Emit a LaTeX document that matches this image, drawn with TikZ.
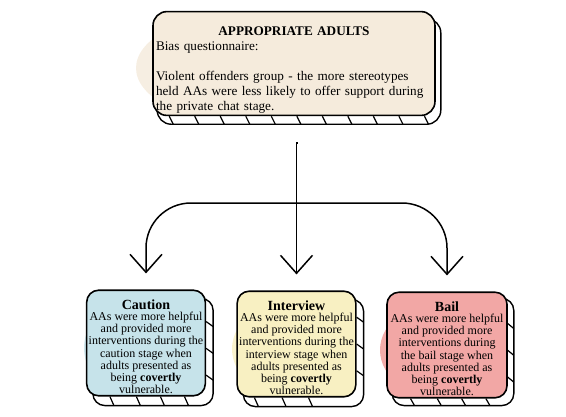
\documentclass[tikz,border=0pt]{standalone}
\usepackage{fontspec}
\setmainfont{Liberation Serif}
\usetikzlibrary{arrows.meta,calc}
\pgfdeclarelayer{bgzero}
\pgfdeclarelayer{bgone}
\pgfsetlayers{bgzero,bgone,main}
\definecolor{topfill}{HTML}{F5EBDC}
\definecolor{topblob}{HTML}{F6EEE2}
\definecolor{bluefill}{HTML}{C6E3EA}
\definecolor{blueblob}{HTML}{CFE7EE}
\definecolor{yelfill}{HTML}{F8F0C2}
\definecolor{yelblob}{HTML}{FAF3CC}
\definecolor{pinkfill}{HTML}{F2A7A5}
\definecolor{pinkblob}{HTML}{F3ABA9}
\tikzset{
  box/.style={draw=black, line width=1.6pt, inner sep=2pt},
  topbox/.style={box, rounded corners=14pt, fill=topfill, text width=276pt, align=left,
    minimum width=282pt, minimum height=103pt, font=\fontsize{13.2}{15}\selectfont},
  card/.style={box, rounded corners=12pt, align=center, minimum height=100pt,
    font=\fontsize{12}{12.2}\selectfont},
  slabline/.style={draw=black, line width=1.4pt},
  conn/.style={draw=black, line width=1.5pt, -{Straight Barb[length=18pt,width=32pt,line width=1.5pt]}, shorten >=16pt},
  tick/.style={draw=black, line width=1.2pt}
}
\newcommand{\cardtitle}[1]{{\rule{0pt}{17pt}\fontsize{14}{14}\selectfont\bfseries #1}\\[-1pt]}
% slab behind a box: node, dx, dy, radius, bottom tick fractions, right tick fractions
\newcommand{\slab}[6]{%
  \begin{pgfonlayer}{bgone}
  \draw[slabline, fill=white, rounded corners=#4]
    ($(#1.north west)+(#2,#3)$) rectangle ($(#1.south east)+(#2,#3)$);
  \foreach \t in {#5}
    \draw[tick] ($(#1.south west)!\t!(#1.south east)$) -- ++(4,#3);
  \foreach \t in {#6}
    \draw[tick] ($(#1.north east)!\t!(#1.south east)$) -- ++(#2,5);
  \end{pgfonlayer}}
\begin{document}
\begin{tikzpicture}[x=1pt,y=-1pt]
\useasboundingbox (0,0) rectangle (566,416);
% blobs
\begin{pgfonlayer}{bgzero}
  \fill[topblob] (252,68) ellipse [x radius=116, y radius=56];
  \fill[blueblob] (146,348) ellipse [x radius=62, y radius=52];
  \fill[yelblob] (297,349) ellipse [x radius=65, y radius=50];
  \fill[pinkblob] (447,350) ellipse [x radius=67, y radius=50];
\end{pgfonlayer}
% top box
\node[topbox] (top) at (294,63.5) {\rule{0pt}{22pt}\makebox[\linewidth]{\bfseries APPROPRIATE ADULTS}\\Bias questionnaire:\\[15pt]Violent offenders group - the more stereotypes\\held AAs were less likely to offer support during\\the private chat stage.};
\slab{top}{5}{8}{14pt}{0.06,0.15,0.24,0.33,0.42,0.51,0.60,0.69,0.78,0.87,0.96}{}
% bottom boxes
\node[card, fill=bluefill, minimum width=118pt] (caution) at (146,343)
  {\cardtitle{Caution}AAs were more helpful\\and provided more\\interventions during the\\caution stage when\\adults presented as\\being \textbf{covertly}\\vulnerable.};
\slab{caution}{7}{9}{12pt}{0.2,0.42,0.62,0.82}{0.3,0.55,0.8}
\node[card, fill=yelfill, minimum width=117pt, minimum height=102pt] (interview) at (296.5,344)
  {\cardtitle{Interview}AAs were more helpful\\and provided more\\interventions during the\\interview stage when\\adults presented as\\being \textbf{covertly}\\vulnerable.};
\slab{interview}{7}{9}{12pt}{0.15,0.38,0.6}{0.25,0.5,0.75}
\node[card, fill=pinkfill, minimum width=120pt, minimum height=104pt] (bail) at (447,345)
  {\cardtitle{Bail}AAs were more helpful\\and provided more\\interventions during\\the bail stage when\\adults presented as\\being \textbf{covertly}\\vulnerable.};
\slab{bail}{6}{7}{12pt}{0.2,0.42,0.62,0.82}{0.3,0.55,0.8}
% connectors
\coordinate (start) at (297,143);
\coordinate (junc) at (297,203);
\draw[conn] (start) -- (start -| interview.north) -- (interview.north);
\draw[conn, rounded corners=45pt] (junc) -| (caution.north);
\draw[conn, rounded corners=45pt] (junc) -| (bail.north);
\end{tikzpicture}
\end{document}
